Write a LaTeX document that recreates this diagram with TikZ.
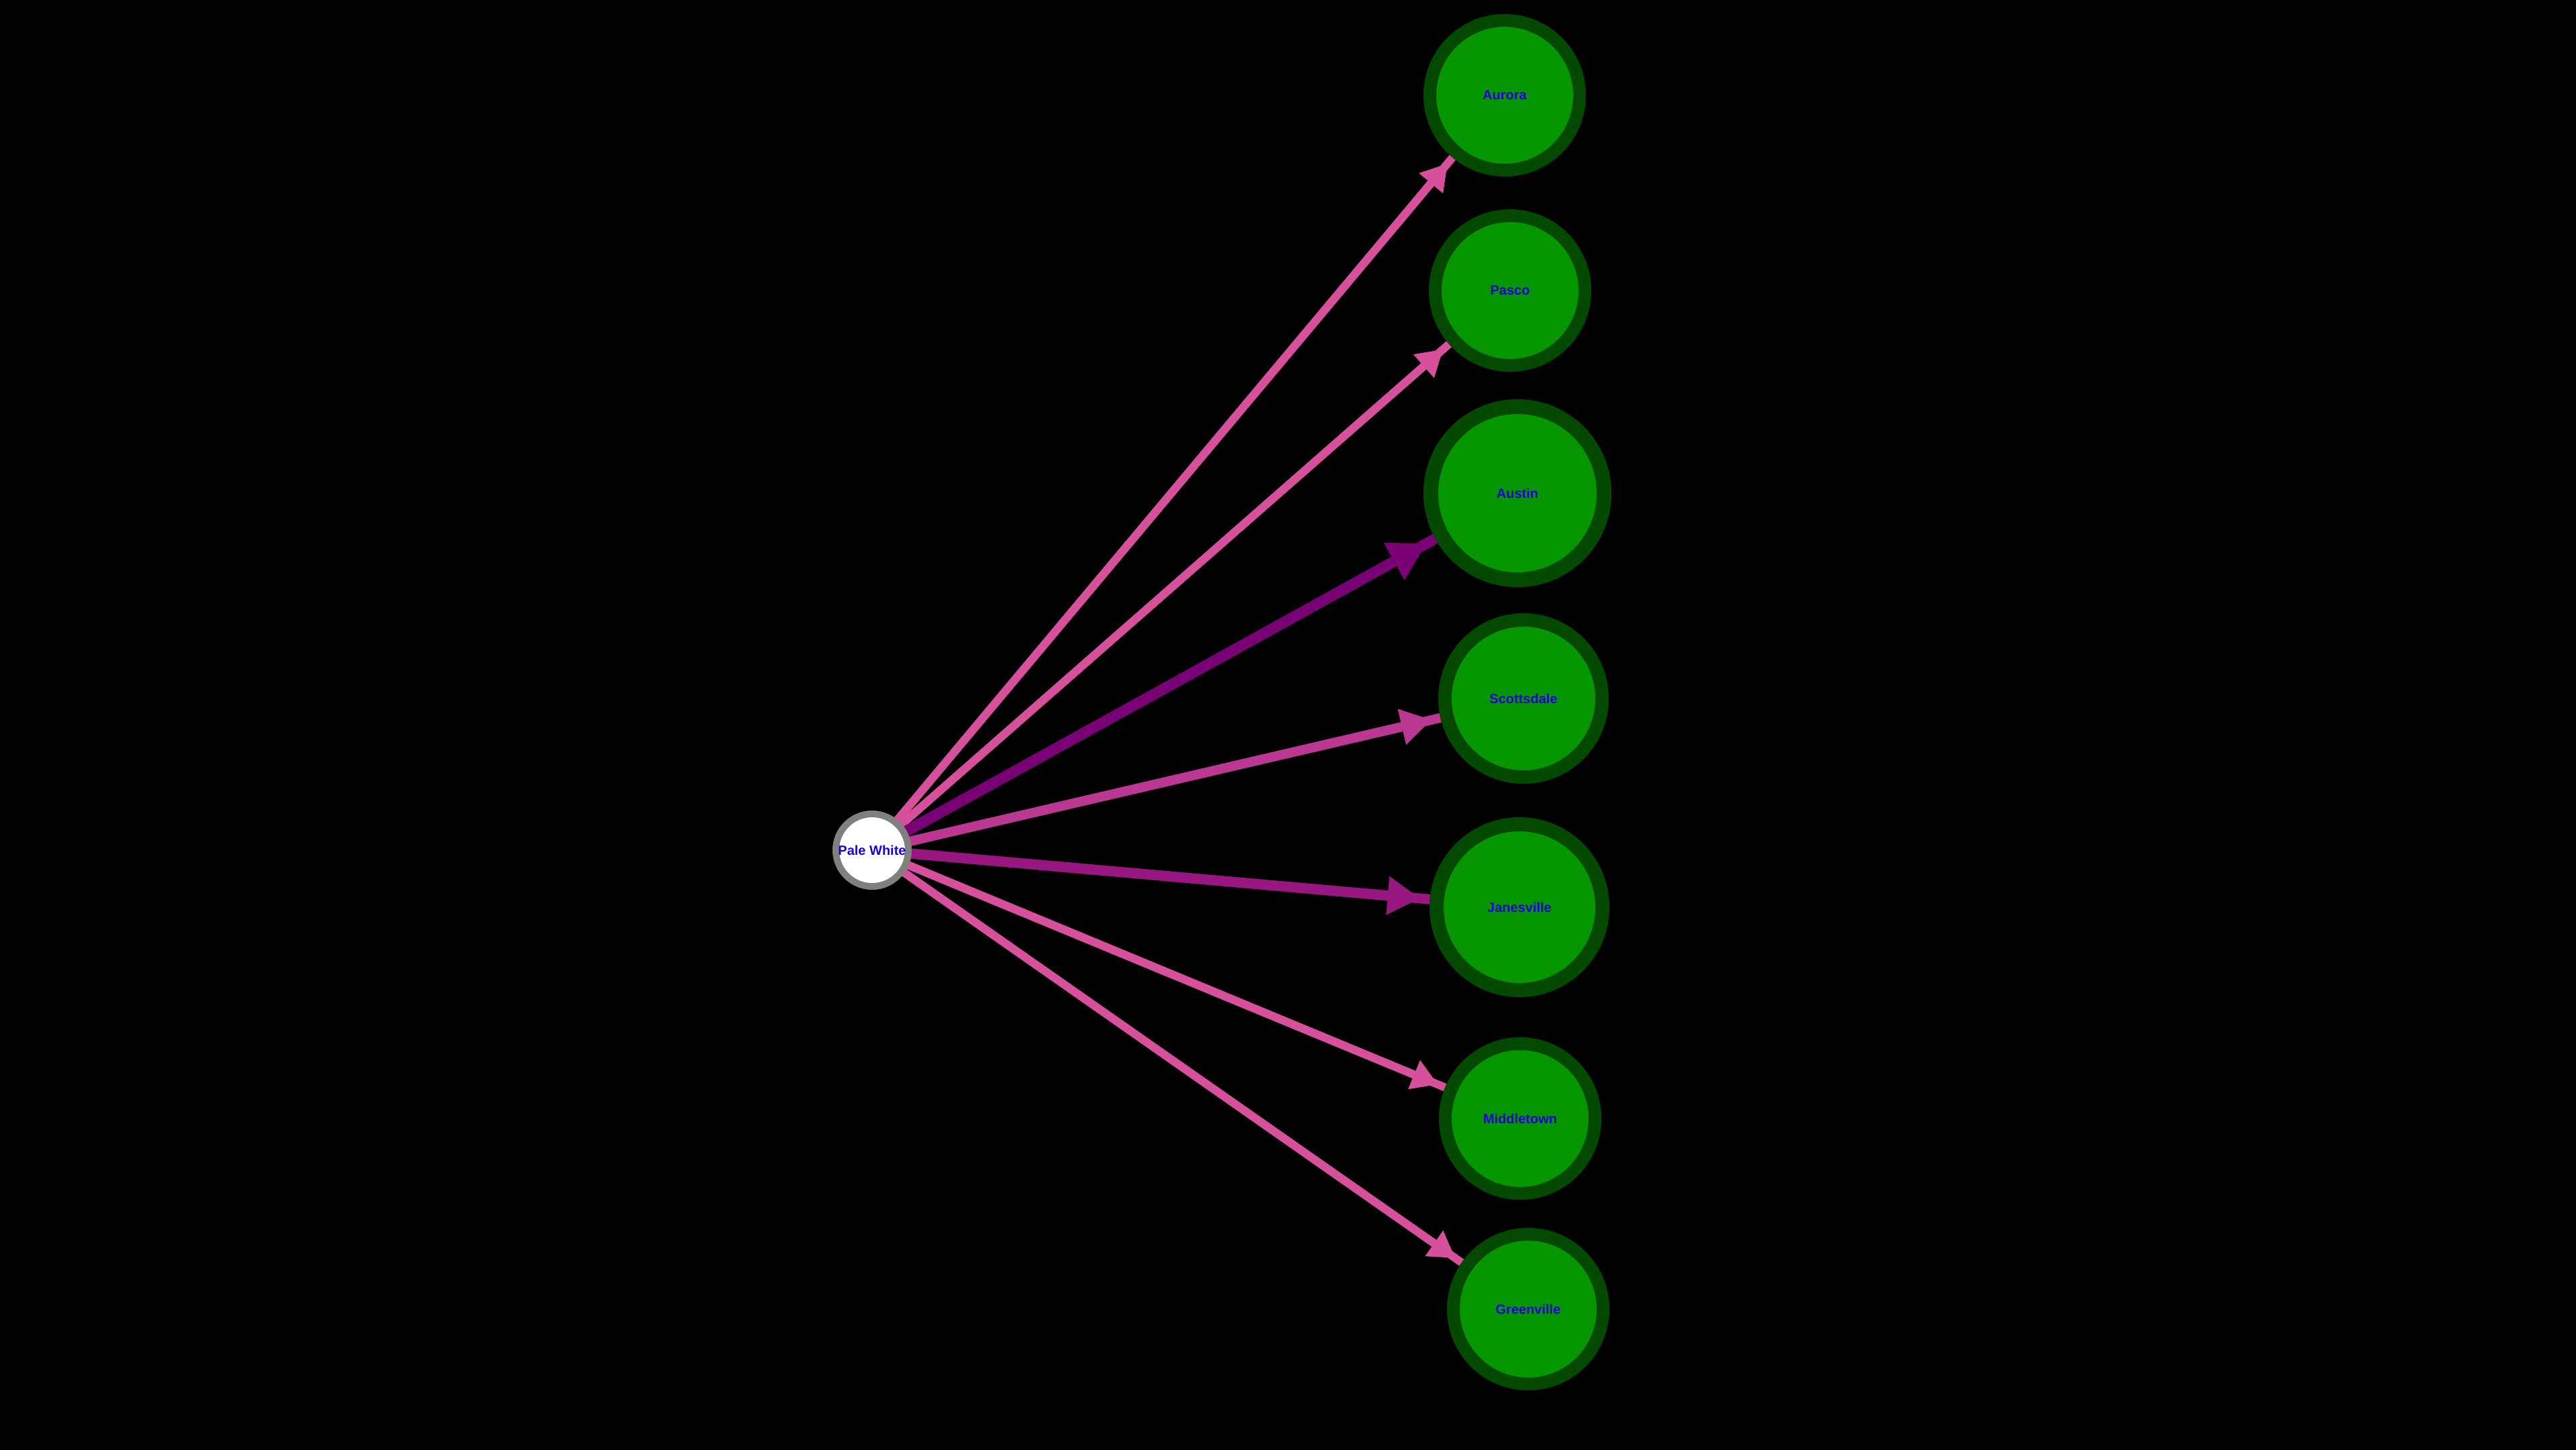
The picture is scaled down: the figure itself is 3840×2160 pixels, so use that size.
\documentclass[tikz,border=0pt]{standalone}
\usepackage{fontspec}
\setmainfont{Liberation Sans}
\usetikzlibrary{arrows.meta}
\pgfdeclarelayer{bglayer}
\pgfdeclarelayer{edgelayer}
\pgfsetlayers{bglayer,edgelayer,main}
\definecolor{ringgreen}{RGB}{3,74,0}
\definecolor{fillgreen}{RGB}{6,150,0}
\definecolor{labelblue}{RGB}{34,0,221}
\definecolor{ringgray}{RGB}{128,128,128}
\definecolor{edgepink}{RGB}{214,80,155}
\definecolor{edgescott}{RGB}{186,56,145}
\definecolor{edgejanes}{RGB}{152,22,128}
\definecolor{edgeaustin}{RGB}{122,0,118}
\tikzset{
  lbl/.style={text=labelblue, font=\bfseries\fontsize{5.69}{6.8}\selectfont},
  city/.style={circle, draw=ringgreen, fill=fillgreen, inner sep=0pt, lbl},
  source/.style={circle, draw=ringgray, fill=white, inner sep=0pt, lbl},
  pinkline/.style={draw=edgepink, line width=0.12cm},
  pinktip/.style={-{Triangle[length=0.38cm, width=0.47cm, line width=0pt]}, shorten >=0.12cm},
  scottline/.style={draw=edgescott, line width=0.14cm},
  scotttip/.style={-{Triangle[length=0.45cm, width=0.55cm, line width=0pt]}, shorten >=0.14cm},
  janesline/.style={draw=edgejanes, line width=0.15cm},
  janestip/.style={-{Triangle[length=0.48cm, width=0.58cm, line width=0pt]}, shorten >=0.15cm},
  austinline/.style={draw=edgeaustin, line width=0.16cm},
  austintip/.style={-{Triangle[length=0.54cm, width=0.64cm, line width=0pt]}, shorten >=0.16cm},
}
\begin{document}
\begin{tikzpicture}[x=0.01cm, y=-0.01cm]
\useasboundingbox (0,0) rectangle (3840,2160);
\begin{pgfonlayer}{bglayer}
  \fill[black] (-20,-20) rectangle (3860,2180);
\end{pgfonlayer}

\node[source, minimum size=1.08cm, line width=0.10cm] (pw) at (1300,1267) {Pale White};
\node[city, minimum size=2.23cm, line width=0.19cm] (aurora) at (2243,142) {Aurora};
\node[city, minimum size=2.23cm, line width=0.19cm] (pasco) at (2251,433) {Pasco};
\node[city, minimum size=2.58cm, line width=0.22cm] (austin) at (2262,735) {Austin};
\node[city, minimum size=2.34cm, line width=0.20cm] (scottsdale) at (2271,1041) {Scottsdale};
\node[city, minimum size=2.47cm, line width=0.21cm] (janesville) at (2265,1352) {Janesville};
\node[city, minimum size=2.23cm, line width=0.19cm] (middletown) at (2266,1667) {Middletown};
\node[city, minimum size=2.23cm, line width=0.19cm] (greenville) at (2278,1951) {Greenville};

\begin{pgfonlayer}{edgelayer}
  \draw[pinkline] (pw.center) -- (aurora);
  \draw[pinkline, pinktip] (pw.center) -- (aurora);
  \draw[pinkline] (pw.center) -- (pasco);
  \draw[pinkline, pinktip] (pw.center) -- (pasco);
  \draw[austinline] (pw.center) -- (austin);
  \draw[austinline, austintip] (pw.center) -- (austin);
  \draw[scottline] (pw.center) -- (scottsdale);
  \draw[scottline, scotttip] (pw.center) -- (scottsdale);
  \draw[janesline] (pw.center) -- (janesville);
  \draw[janesline, janestip] (pw.center) -- (janesville);
  \draw[pinkline] (pw.center) -- (middletown);
  \draw[pinkline, pinktip] (pw.center) -- (middletown);
  \draw[pinkline] (pw.center) -- (greenville);
  \draw[pinkline, pinktip] (pw.center) -- (greenville);
\end{pgfonlayer}
\end{tikzpicture}
\end{document}
